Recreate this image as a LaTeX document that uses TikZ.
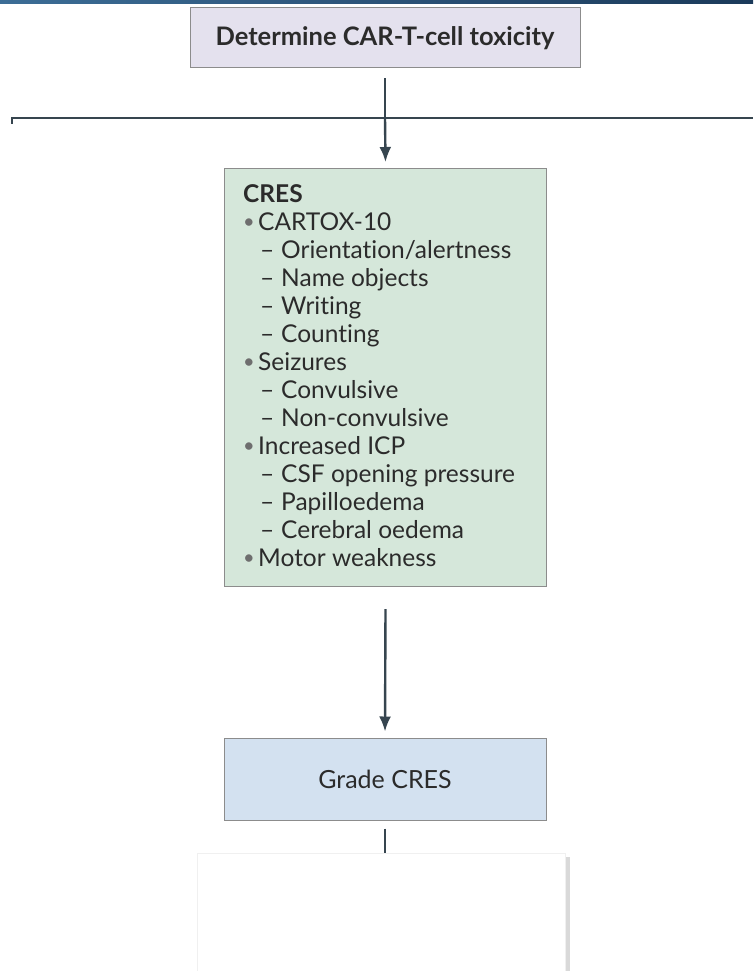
\documentclass[tikz,border=0pt]{standalone}
\usepackage{fontspec}
\setmainfont{Lato}[Ligatures=NoCommon]
\usetikzlibrary{arrows.meta,positioning}
\tikzset{>={Latex[length=15pt,width=12pt]}}
\definecolor{linecol}{HTML}{36454F}
\definecolor{boxedge}{HTML}{8C8C8C}
\definecolor{topfill}{HTML}{E4E1EE}
\definecolor{cresfill}{HTML}{D5E7DA}
\definecolor{gradefill}{HTML}{D3E1F0}
\definecolor{bandleft}{HTML}{3C6D96}
\definecolor{bandright}{HTML}{1B3A5A}
\definecolor{dotgray}{HTML}{6E6E6E}
\definecolor{textcol}{HTML}{2B2B2B}
\newcommand{\bitem}[1]{\makebox[15pt][l]{\raisebox{1.5pt}{\textcolor{dotgray}{\fontsize{20}{20}\selectfont •}}}#1}
\newcommand{\ditem}[1]{\hspace{17pt}\makebox[21pt][l]{–}#1}

\begin{document}
\begin{tikzpicture}[x=1pt,y=-1pt,
    box/.style={draw=boxedge, line width=1pt, inner sep=0pt, text=textcol},
    conn/.style={draw=linecol, line width=2.4pt}]
    \useasboundingbox (0,0) rectangle (753,971);
    % blue band along the top
    \shade[left color=bandleft, right color=bandright] (0,0) rectangle (753,4);

    % boxes
    \node[box, fill=topfill, minimum width=390pt, minimum height=60pt,
          font=\fontsize{25.5}{30}\selectfont\bfseries] (top) at (385,38)
        {Determine CAR-T-cell toxicity};
    \node[box, fill=cresfill, minimum width=322pt, minimum height=418pt, anchor=north west] (cres) at (224,168) {};
    \node[anchor=north west, align=left, inner sep=0pt, text=textcol,
          font=\fontsize{24.5}{28}\selectfont] (creslist) at (243,184)
        {\textbf{CRES}\\
         \bitem{CARTOX-10}\\
         \ditem{Orientation/alertness}\\
         \ditem{Name objects}\\
         \ditem{Writing}\\
         \ditem{Counting}\\
         \bitem{Seizures}\\
         \ditem{Convulsive}\\
         \ditem{Non-convulsive}\\
         \bitem{Increased ICP}\\
         \ditem{CSF opening pressure}\\
         \ditem{Papilloedema}\\
         \ditem{Cerebral oedema}\\
         \bitem{Motor weakness}};
    \node[box, fill=gradefill, minimum width=322pt, minimum height=82pt,
          font=\fontsize{25}{30}\selectfont] (grade) at (385,779)
        {Grade CRES};
    % white box at the bottom, with its shadow
    \fill[gray!30] (565,857) rectangle (570,975);
    \node[draw=gray!12, fill=white, minimum width=368pt, minimum height=130pt, anchor=north west] (next) at (197,853) {};

    % connectors
    \coordinate (split) at (385,118);
    \coordinate (leftend) at (12,118);
    \coordinate (rightend) at (753,118);
    \draw[conn] ([yshift=-10pt]top.south) -- (split);
    \draw[conn] ([yshift=-6pt]leftend) -- (leftend) -- (rightend);
    \draw[conn, ->] (split) -- ([yshift=6pt]cres.north);
    \draw[conn, ->] ([yshift=-22pt]cres.south) -- ([yshift=6pt]grade.north);
    \draw[conn] ([yshift=-8pt]grade.south) -- (grade.south |- next.north);
\end{tikzpicture}
\end{document}
